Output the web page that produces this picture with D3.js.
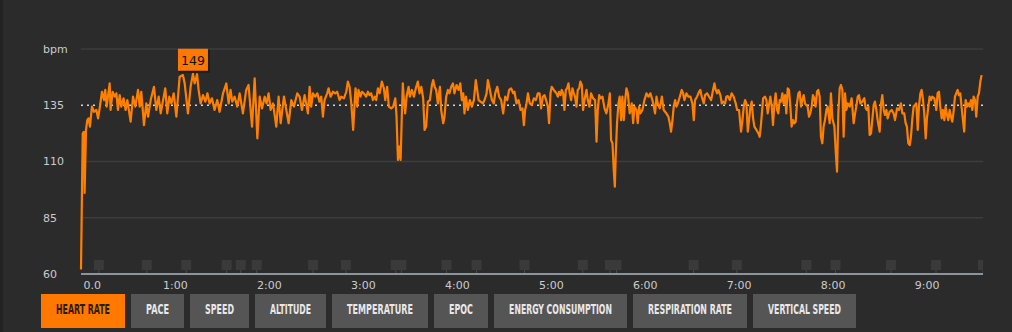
<!DOCTYPE html>
<html><head><meta charset="utf-8">
<script src="https://cdn.jsdelivr.net/npm/d3@7"></script>
<style>
html,body{margin:0;padding:0;background:#2b2b2b;overflow:hidden;}
svg{display:block;}
</style></head><body>
<svg id="c" width="1012" height="332"></svg>
<script>
// ---------- data ----------
const yTicks = [60, 85, 110, 135, 160];
const yTickLabels = ["60", "85", "110", "135", "bpm"];
const xTicks = [0, 60, 120, 180, 240, 300, 360, 420, 480, 540]; // seconds
const xTickLabels = ["0.0", "1:00", "2:00", "3:00", "4:00", "5:00", "6:00", "7:00", "8:00", "9:00"];
const referenceBpm = 135;
const durationSec = 576;
const lapMarkersMin = [0.19, 0.70, 1.12, 1.55, 1.70, 1.87, 2.47, 2.82, 3.35, 3.41, 3.89, 4.21, 4.72, 5.34, 5.63, 5.70, 6.52, 6.98, 7.72, 8.03, 8.62, 9.10, 9.60];
const buttonLabels = ["HEART RATE", "PACE", "SPEED", "ALTITUDE", "TEMPERATURE", "EPOC", "ENERGY CONSUMPTION", "RESPIRATION RATE", "VERTICAL SPEED"];
const activeButton = "HEART RATE";
// [seconds, bpm]
const hrSamples = [
[0,62],[1.1,122.5],[1.9,123.2],[2.3,96],[3.2,124],[4.0,128.4],[4.9,129.2],[5.7,125.5],[7.0,134.4],[8.3,132.1],[9.8,132.9],[10.9,129.2],[11.9,133.6],[13.4,141],[14.7,137.3],[15.5,141.8],[16.4,134.4],[18.3,144.7],[18.9,132.9],[20.2,141],[21.5,138.8],[22.6,140.3],[23.6,132.9],[24.7,139.5],[25.7,134.4],[27.2,138.1],[28.5,132.9],[29.6,137.3],[31.7,127.7],[33.2,138.8],[34.7,134.4],[36.4,141.8],[37.5,134.4],[38.5,141],[40.2,126.2],[41.7,135.8],[42.8,129.9],[44.5,137.3],[46.6,143.2],[48.1,132.9],[49.6,138.8],[50.9,131.4],[53.8,142.5],[55.1,131.4],[56.4,138.8],[57.7,135.8],[59.2,140.3],[60.9,129.9],[63.0,147.7],[65.1,148.4],[66.2,144.7],[68.3,131.4],[70.0,143.2],[71.5,149],[72.6,144.7],[74.1,148.8],[75.1,141.8],[76.4,135.8],
[77.9,139.5],[79.4,136.6],[80.7,140.3],[82.1,135.8],[83.6,138.1],[85.3,132.9],[87.0,137.3],[88.5,132.1],[90.7,140.3],[92.8,144.7],[94.3,135.8],[95.5,141.8],[96.6,136.6],[98.1,138.8],[99.8,134.4],[101.3,140.3],[103.4,131.4],[105.5,141.8],[107.0,144],[109.2,125.5],[110.9,147],[112.6,120.3],[114.1,138.8],[115.6,133.6],[117.3,138.8],[118.5,135.8],[119.8,140.3],[121.1,132.9],[122.6,135.8],[124.7,125.5],[126.2,138.8],[127.5,127],[129.6,138.8],[131.1,132.9],[132.6,127],[134.3,137.3],[136.0,134.4],[138.1,140.3],[139.6,138.8],[141.1,132.9],[142.8,139.5],[144.9,131.4],
[146.0,143.2],[147.0,134.4],[148.1,140.3],[149.6,138.8],[150.9,140.3],[152.3,136.6],[153.4,138.8],[154.5,129.9],[155.5,137.3],[157.2,140.3],[158.1,142.5],[159.4,138.8],[160.9,141],[162.4,140.3],[163.6,141],[165.1,137.3],[166.2,138.8],[167.9,138.1],[169.4,141],[170.4,145.5],[171.5,143.2],[172.6,135.8],[173.8,124],[174.7,135.8],[175.3,142.5],[176.4,134.4],[177.2,141.8],[178.5,138.8],[179.4,141],[180.6,140.3],[182.1,138.8],[183.2,141],[184.3,139.5],[185.3,140.3],[186.4,137.3],[187.5,138.8],[188.5,137.3],[189.6,142.5],[190.7,140.3],[192.1,145.5],[193.4,142.5],[194.3,137.3],[195.5,143.2],[196.6,134.4],[198.1,133.6],[199.4,134.4],[200.7,138.1],[201.5,129.9],[202.4,110.7],[203.2,116.6],[204.1,110.7],[204.9,131.4],[205.5,144.7],[206.2,137.3],[207.0,131.4],[207.9,138.8],[209.2,143.2],[210.0,138.8],[211.3,141.8],[212.6,138.8],[213.8,142.5],[215.1,145.5],[216.2,140.3],[217.3,143.2],[218.5,138.1],[219.4,124],[220.4,125.5],[221.5,136.6],[222.8,137.3],[224.1,144],[224.9,146.2],[225.8,143.2],[226.8,141.8],[227.9,135.8],[229.2,143.2],[230.0,132.9],[231.3,127],[232.1,129.9],[233.2,138.8],[234.3,141.8],[235.3,140.3],[236.4,143.2],[237.5,144.7],[238.5,140.3],[239.8,144],[241.1,141.8],[242.2,144.7],[243.2,137.3],[244.1,140.3],[244.9,131.4],[245.8,138.8],[247.0,132.9],[248.3,137.3],[249.6,134.4],[250.9,137.3],[252.1,146.2],[253.0,141.8],[253.9,137.3],[255.1,136.6],[256.6,135.8],[257.7,137.3],[259.0,140.3],[259.8,146.2],[260.7,143.2],[261.5,140.3],[262.4,137.3],[263.6,135.8],[264.5,140.3],[265.8,143.2],[267.0,138.8],[268.3,137.3],[269.6,131.4],[270.9,138.8],[272.2,137.3],[273.4,141.8],[274.7,142.5],[276.0,140.3],[276.8,141],[278.1,135.8],[279.4,137.3],[280.7,132.9],[281.9,133.6],[282.8,126.2],[283.6,132.9],[284.5,135.8],[285.4,140.3],[286.6,135.8],[287.9,135.1],[289.2,138.1],[290.5,137.3],[291.7,140.3],
[292.8,140.3],[293.8,133.6],[294.9,138.8],[296.0,139.5],[297.0,137.3],[298.1,134.4],[298.9,127],[299.8,140.3],[300.6,143.2],[301.9,141.8],[302.8,141],[303.6,140.3],[304.5,138.8],[305.3,141],[306.2,139.5],[307.0,141.8],[307.9,140.3],[308.7,132.9],[309.6,141.8],[310.4,142.5],[311.3,144.7],[312.1,140.3],[313.0,137.3],[313.8,142.5],[314.7,140.3],[315.5,138.8],[316.4,134.4],[317.2,141.8],[318.1,142.5],[318.9,145.5],[319.8,144],[320.6,132.9],[321.5,137.3],[322.8,141.8],[323.6,137.3],[324.7,134.4],[325.7,140.3],[327.0,138.1],[328.3,137.3],[329.2,118.8],[330.0,132.9],[330.9,139.5],[331.7,138.1],[333.0,138.8],[334.3,133.6],[335.5,131.4],[336.8,135.8],[337.7,140.3],[338.5,119.5],[339.4,118.1],[340.2,106.2],[340.9,98.8],[341.5,113.6],[342.3,127],[343.2,135.8],[344.0,138.8],[344.9,128.4],[345.7,138.8],[346.6,128.4],[347.5,137.3],[348.3,142.5],[349.2,140.3],[350.4,131.4],[351.7,135.8],[352.6,127],[353.4,134.4],[354.7,132.9],[355.5,127],[356.4,134.4],[357.2,131.4],[358.5,132.9],[359.8,137.3],[361.1,140.3],[362.4,138.8],[363.6,140.3],[364.9,137.3],[365.8,134.4],[366.6,131.4],[367.5,138.8],[368.3,135.8],[369.6,133.6],[370.9,138.8],[372.1,132.9],[373.0,132.1],[373.8,131.4],[375.1,129.9],[376.0,127],[376.8,123.3],[377.7,128.4],[378.5,134.4],[379.4,137.3],[380.2,134.4],[381.1,135.8],[382.4,138.8],[383.6,141.8],[384.5,140.3],[385.3,137.3],[386.6,140.3],[387.9,138.8],[389.2,138.8],[390.4,135.8],[391.3,128.4],[392.1,137.3],[393.4,138.8],[394.7,141],[395.5,141.8],[396.4,138.8],[397.7,135.8],[398.5,139.5],[399.8,140.3],[401.1,138.8],[402.4,137.3],[403.6,141.8],[404.5,144.7],[405.3,141.8],[406.2,140.3],[407.0,141.8],[408.3,139.5],[409.2,135.8],[410.0,136.6],[411.3,135.8],[412.1,138.8],[413.0,139.1],[414.3,137.3],[415.5,140.3],[416.8,138.8],[418.1,135.8],[419.0,132.9],[420.2,132.9],[421.5,123.3],[422.4,128.4],[423.2,134.4],[424.1,137.3],[424.9,135.8],[425.8,123.3],[426.6,128.4],[427.5,134.4],[428.3,136.6],[429.2,129.2],[430.0,125.5],[431.3,124],[432.6,122.5],[433.4,121],[434.3,127],[435.6,138.1],[436.8,138.8],[437.7,137.3],[438.5,131.4],
[440.2,138.8],[441.1,134.4],[441.9,126.2],[442.8,135.8],[443.6,140.3],[444.5,132.9],[445.3,131.4],[446.2,137.3],[447.0,136.6],[447.9,140.3],[448.7,135.8],[449.6,139.5],[450.4,131.4],[451.3,142.5],[452.1,141.8],[453.0,134.4],[453.8,125.5],[454.7,128.4],[455.5,127],[456.4,127.7],[457.2,135.8],[458.1,140.3],[458.9,141],[459.8,134.4],[460.6,137.3],[461.5,139.5],[462.3,135.8],[463.2,135.1],[464.0,134.4],[464.9,129.9],[465.7,131.4],[466.6,134.4],[467.4,139.5],[468.3,138.1],[469.1,134.4],[470.0,141],[470.8,141.8],[471.7,138.8],[472.5,121],[473.4,118.1],[474.2,125.5],[475.1,128.4],[476.0,132.9],[476.8,134.4],[478.1,127],[478.9,140.3],[479.8,129.2],[481.1,125.5],[481.9,115.1],[482.8,105.5],[483.6,131.4],[484.5,142.5],[485.3,144],[486.2,141.8],[487.0,121],[487.9,140.3],[488.7,132.9],[489.6,135.8],[490.9,134.4],[492.1,138.1],[493.4,127],[494.3,131.4],[495.1,134.4],[496.0,138.8],[496.8,139.5],[497.7,135.8],[498.9,136.6],[500.2,138.1],[501.1,133.6],[501.9,132.9],[502.8,134.4],[503.6,121.8],[504.5,122.5],[505.3,128.4],[506.2,135.1],[507.0,136.6],[507.9,132.9],[508.7,128.4],[510.0,123.3],[510.9,135.8],[511.7,139.5],[512.6,132.9],[513.4,130.7],[514.3,132.9],[515.1,129.2],[516.4,132.1],[517.7,132.9],[518.9,131.4],[519.8,128.4],[521.1,133.6],[522.3,132.9],[523.6,135.8],[524.5,131.4],[525.7,131.4],[526.6,127],[527.4,125.5],[528.3,118.1],[529.2,117.3],[530.0,121],[530.9,129.2],[531.7,134.4],[532.6,135.1],[533.4,135.8],[534.3,124],[535.1,134.4],[536.0,140.3],[536.8,141.8],[537.7,137.3],[538.5,131.4],[539.4,120.3],[540.2,129.2],[541.1,134.4],[541.9,138.8],[542.8,137.3],[543.6,138.8],[544.9,138.1],[546.2,132.9],[547.0,140.3],[547.9,141],[548.7,134.4],[549.6,129.2],[550.4,132.9],[551.3,128.4],[552.1,134.4],[553.0,130.7],[553.8,128.4],[554.7,132.9],[555.5,129.9],[556.4,127.7],[557.2,132.1],[558.1,138.8],[558.9,140.3],[559.8,141.8],[560.6,139.5],[561.5,140.3],[562.3,134.4],[563.2,128.4],[564.0,123.3],[564.9,137.3],[565.8,134.4],[566.6,135.8],[567.5,134.4],[568.3,137.3],[569.2,132.9],[570.0,138.8],[570.9,137.3],[571.7,129.9],[572.6,138.8],[573.4,140.3],[574.3,145.5],[575.1,148.4]
];

// ---------- layout / style ----------
const plotLeft = 81, plotRight = 983, plotTop = 49, plotBottom = 274;
const buttonTextWidths = [54, 23, 29, 41, 66, 24, 103, 84, 73];

const svg = d3.select("#c");
const x = d3.scaleLinear().domain([0, durationSec]).range([plotLeft, plotRight]);
const y = d3.scaleLinear().domain([60, 160]).range([plotBottom, plotTop]);

svg.append("rect").attr("x", 0).attr("y", 0).attr("width", 1012).attr("height", 332).attr("fill", "#2b2b2b");
svg.append("rect").attr("x", 0).attr("y", 0).attr("width", 3).attr("height", 332).attr("fill", "#222");

// grid lines
svg.append("g").selectAll("line")
  .data(yTicks.filter(v => v !== 60 && v !== referenceBpm))
  .join("line")
  .attr("x1", plotLeft).attr("x2", plotRight)
  .attr("y1", d => y(d)).attr("y2", d => y(d))
  .attr("stroke", "#3d3d3d").attr("stroke-width", 1.5);

// y labels
svg.append("g").selectAll("text")
  .data(yTicks)
  .join("text")
  .attr("x", 43).attr("y", d => y(d))
  .attr("dy", "0.35em")
  .attr("fill", "#c9ccd0")
  .attr("font-family", "DejaVu Sans, Verdana, sans-serif")
  .attr("font-size", 11)
  .text((d, i) => yTickLabels[i]);

// lap markers
svg.append("defs").append("clipPath").attr("id", "plotclip")
  .append("rect").attr("x", plotLeft).attr("y", 0).attr("width", plotRight - plotLeft).attr("height", 332);
const mk = svg.append("g").attr("clip-path", "url(#plotclip)");
mk.selectAll("rect").data(lapMarkersMin).join("rect")
  .attr("x", d => x(d * 60) - 5).attr("y", 260).attr("width", 10).attr("height", 10)
  .attr("fill", "#3a3a3a");
mk.selectAll("line").data(lapMarkersMin).join("line")
  .attr("x1", d => x(d * 60)).attr("x2", d => x(d * 60))
  .attr("y1", 270).attr("y2", 274).attr("stroke", "#4a4a4a").attr("stroke-width", 1);

// x axis line
svg.append("line").attr("x1", plotLeft).attr("x2", plotRight)
  .attr("y1", plotBottom).attr("y2", plotBottom)
  .attr("stroke", "#8c939b").attr("stroke-width", 2);

// x labels
const xAxis = d3.axisBottom(x).tickValues(xTicks).tickSize(0).tickFormat((d, i) => xTickLabels[i]);
const gx = svg.append("g").attr("transform", `translate(0,${plotBottom + 4})`).call(xAxis);
gx.select(".domain").remove();
gx.selectAll("text")
  .attr("fill", "#c9ccd0")
  .attr("font-family", "DejaVu Sans, Verdana, sans-serif")
  .attr("font-size", 11)
  .attr("text-anchor", (d, i) => i === 0 ? "start" : "middle")
  .attr("x", (d, i) => i === 0 ? 2 : 0);

// reference dotted line
svg.append("line").attr("x1", plotLeft).attr("x2", plotRight)
  .attr("y1", y(referenceBpm)).attr("y2", y(referenceBpm))
  .attr("stroke", "#d8d8d8").attr("stroke-width", 1.5).attr("stroke-dasharray", "2,4");

// heart rate line
const line = d3.line().x(d => x(d[0])).y(d => y(d[1]));
svg.append("path").datum(hrSamples)
  .attr("d", line).attr("fill", "none")
  .attr("stroke", "#ff8000").attr("stroke-width", 2.2)
  .attr("stroke-linejoin", "round");

// max label
const peak = d3.greatest(hrSamples, d => d[1]);
const px = x(peak[0]), py = y(peak[1]);
const lab = svg.append("g").attr("transform", `translate(${px},${py - 2})`);
lab.append("rect").attr("x", -14).attr("y", -22).attr("width", 31).attr("height", 23)
  .attr("fill", "#1e1e1e");
lab.append("rect").attr("x", -15).attr("y", -23).attr("width", 30).attr("height", 22)
  .attr("fill", "#ff7800");
lab.append("text").attr("x", 0).attr("y", -7).attr("text-anchor", "middle")
  .attr("fill", "#111").attr("font-family", "DejaVu Sans, Verdana, sans-serif")
  .attr("font-size", 12.5).text(Math.round(peak[1]));

// buttons
const pad = 15, gap = 6;
let bx = 41;
const btnData = buttonLabels.map((l, i) => {
  const w = buttonTextWidths[i] + pad * 2;
  const o = { label: l, x: bx, w: w, tw: buttonTextWidths[i] };
  bx += w + gap;
  return o;
});
const bg = svg.append("g").selectAll("g").data(btnData).join("g")
  .attr("transform", d => `translate(${d.x},294)`);
bg.append("rect").attr("width", d => d.w).attr("height", 34)
  .attr("fill", d => d.label === activeButton ? "#ff7800" : "#555555");
bg.append("text")
  .attr("text-anchor", "middle")
  .attr("font-family", "DejaVu Sans Condensed, DejaVu Sans, sans-serif")
  .attr("font-weight", "bold").attr("font-size", 14)
  .attr("fill", d => d.label === activeButton ? "#2a1a0a" : "#e8e8e8")
  .text(d => d.label)
  .each(function(d) {
    const natural = this.getComputedTextLength();
    const s = d.tw / natural;
    d3.select(this).attr("transform", `translate(${d.w / 2},20) scale(${s},1)`);
  });
</script>
</body></html>
